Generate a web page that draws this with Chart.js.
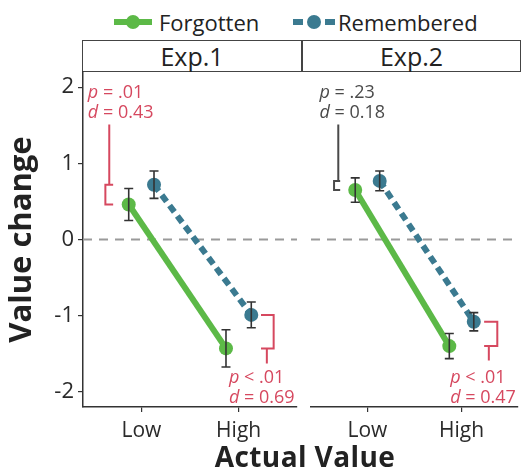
<!DOCTYPE html>
<html>
<head>
<meta charset="utf-8">
<script src="https://cdn.jsdelivr.net/npm/chart.js@4.4.1/dist/chart.umd.min.js"></script>
<style>
  html, body { margin:0; padding:0; background:#fff; }
  #root { position:relative; width:525px; height:475px; overflow:hidden; font-family:"Open Sans", "Lato", sans-serif; color:#222; }
  .strip { position:absolute; top:40px; height:30px; border:1.5px solid #444; background:#fff; text-align:center; font-size:25px; line-height:30px; color:#222; box-sizing:content-box; }
  .legend { position:absolute; top:8px; height:28px; display:flex; align-items:center; font-size:22px; color:#222; }
  .legend span { margin-left:6px; }
  #xtitle { position:absolute; left:0; width:610px; top:437px; text-align:center; font-weight:bold; font-size:28px; color:#222; letter-spacing:0.4px; }
  .wrap { position:absolute; top:0; height:475px; }
</style>
</head>
<body>
<div id="root">
  <div class="legend" style="left:113px;">
    <svg width="40" height="20"><line x1="1" y1="10" x2="39" y2="10" stroke="#5cb947" stroke-width="6"/><circle cx="20" cy="10" r="7" fill="#5cb947"/></svg><span id="lg0"></span>
  </div>
  <div class="legend" style="left:292px;">
    <svg width="44" height="20"><line x1="1" y1="10" x2="43" y2="10" stroke="#3b7a90" stroke-width="6" stroke-dasharray="10 22"/><circle cx="22" cy="10" r="7" fill="#3b7a90"/></svg><span id="lg1" style="margin-left:2px"></span>
  </div>
  <div class="strip" id="s0" style="left:82px; width:218px;"></div>
  <div class="strip" id="s1" style="left:302px; width:217px;"></div>
  <div class="wrap" style="left:0; width:304px;"><canvas id="c1" width="304" height="475"></canvas></div>
  <div class="wrap" style="left:304px; width:221px;"><canvas id="c2" width="221" height="475"></canvas></div>
  <div id="xtitle"></div>
</div>
<script>
// ---------------- data ----------------
const categories = ['Low', 'High'];
const panelNames = ['Exp.1', 'Exp.2'];
const seriesNames = ['Forgotten', 'Remembered'];
const yTickValues = [-2, -1, 0, 1, 2];
const exp1Forgotten = [0.46, -1.43];
const exp1ForgottenSE = [0.21, 0.245];
const exp1Remembered = [0.72, -0.99];
const exp1RememberedSE = [0.18, 0.17];
const exp2Forgotten = [0.65, -1.40];
const exp2ForgottenSE = [0.16, 0.165];
const exp2Remembered = [0.77, -1.08];
const exp2RememberedSE = [0.13, 0.12];
const exp1Stats = [['p = .01', 'd = 0.43'], ['p < .01', 'd = 0.69']];
const exp2Stats = [['p = .23', 'd = 0.18'], ['p < .01', 'd = 0.47']];
const yAxisTitle = 'Value change';
const xAxisTitle = 'Actual Value';

// ---------------- styles / layout ----------------
const GREEN = '#5cb947', BLUE = '#3b7a90', RED = '#d6485f', GREYTXT = '#4a4a4a', INK = '#333';
const FONT = '"Open Sans", "Lato", sans-serif';
const DODGE = 0.13;

document.getElementById('lg0').textContent = seriesNames[0];
document.getElementById('lg1').textContent = seriesNames[1];
document.getElementById('s0').textContent = panelNames[0];
document.getElementById('s1').textContent = panelNames[1];
document.getElementById('xtitle').textContent = xAxisTitle;

// annotation geometry (data units of each panel)
const annLayout1 = [
  { side:'left', vx:0.63, ax:0.71, sx:0.67, stemEnd:1.51, tx:0.45, ty:[1.92, 1.66], color:RED },
  { side:'right', vx:2.36, ax:2.23, sx:2.29, stemEnd:-1.63, tx:1.90, ty:[-1.82, -2.08], color:RED }
];
const annLayout2 = [
  { side:'left', vx:0.645, ax:0.71, sx:0.69, stemEnd:1.51, tx:0.49, ty:[1.92, 1.66], color:GREYTXT },
  { side:'right', vx:2.38, ax:2.24, sx:2.29, stemEnd:-1.59, tx:1.88, ty:[-1.82, -2.08], color:RED }
];

function pts(vals, off) { return vals.map((v, i) => ({ x: i + 1 + off, y: v })); }

const zeroLine = {
  id: 'zeroLine',
  beforeDatasetsDraw(chart) {
    const { ctx, chartArea: a, scales: { y } } = chart;
    const py = y.getPixelForValue(0);
    ctx.save();
    ctx.strokeStyle = '#9a9a9a'; ctx.lineWidth = 2; ctx.setLineDash([9, 7]);
    ctx.beginPath(); ctx.moveTo(a.left, py); ctx.lineTo(a.right, py); ctx.stroke();
    ctx.restore();
  }
};

const errorBars = {
  id: 'errorBars',
  afterDatasetsDraw(chart) {
    const { ctx, scales: { x, y } } = chart;
    ctx.save();
    ctx.strokeStyle = INK; ctx.lineWidth = 1.6;
    chart.data.datasets.forEach(ds => {
      ds.data.forEach((p, i) => {
        const e = ds.se[i];
        const px = x.getPixelForValue(p.x);
        const t = y.getPixelForValue(p.y + e), b = y.getPixelForValue(p.y - e);
        ctx.beginPath();
        ctx.moveTo(px, t); ctx.lineTo(px, b);
        ctx.moveTo(px - 4.5, t); ctx.lineTo(px + 4.5, t);
        ctx.moveTo(px - 4.5, b); ctx.lineTo(px + 4.5, b);
        ctx.stroke();
      });
    });
    ctx.restore();
  }
};

function drawStatText(ctx, x0, y0, s, color) {
  ctx.fillStyle = color;
  ctx.textBaseline = 'middle'; ctx.textAlign = 'left';
  ctx.font = 'italic 18px ' + FONT;
  ctx.fillText(s[0], x0, y0);
  const w = ctx.measureText(s[0]).width;
  ctx.font = '18px ' + FONT;
  ctx.fillText(s.slice(1), x0 + w, y0);
}

function annotations(stats, layout) {
  return {
    id: 'annotations',
    afterDraw(chart) {
      const { ctx, scales: { x, y } } = chart;
      const ds = chart.data.datasets;
      ctx.save();
      layout.forEach((L, i) => {
        const m1 = ds[0].data[i].y, m2 = ds[1].data[i].y;
        const top = y.getPixelForValue(Math.max(m1, m2));
        const bot = y.getPixelForValue(Math.min(m1, m2));
        const vx = x.getPixelForValue(L.vx), ax = x.getPixelForValue(L.ax), sx = x.getPixelForValue(L.sx);
        ctx.strokeStyle = L.color; ctx.lineWidth = 2; ctx.setLineDash([]);
        ctx.beginPath();
        ctx.moveTo(ax, top); ctx.lineTo(vx, top); ctx.lineTo(vx, bot); ctx.lineTo(ax, bot);
        if (L.side === 'left') { ctx.moveTo(sx, top); ctx.lineTo(sx, y.getPixelForValue(L.stemEnd)); }
        else { ctx.moveTo(sx, bot); ctx.lineTo(sx, y.getPixelForValue(L.stemEnd)); }
        ctx.stroke();
        stats[i].forEach((s, k) => drawStatText(ctx, x.getPixelForValue(L.tx), y.getPixelForValue(L.ty[k]), s, L.color));
      });
      ctx.restore();
    }
  };
}

function makeChart(id, f, fse, r, rse, stats, layout, showY) {
  return new Chart(document.getElementById(id), {
    type: 'line',
    data: {
      datasets: [
        { label: seriesNames[0], data: pts(f, -DODGE), se: fse, borderColor: GREEN, backgroundColor: GREEN,
          borderWidth: 6, pointRadius: 7, pointBackgroundColor: GREEN, pointBorderWidth: 0, pointHoverRadius: 7 },
        { label: seriesNames[1], data: pts(r, DODGE), se: rse, borderColor: BLUE, backgroundColor: BLUE,
          borderWidth: 6, borderDash: [8, 5], pointRadius: 7, pointBackgroundColor: BLUE, pointBorderWidth: 0, pointHoverRadius: 7 }
      ]
    },
    options: {
      responsive: false, animation: false, events: [],
      layout: { padding: { top: 72, right: showY ? 2 : 1, left: 0, bottom: 0 } },
      plugins: { legend: { display: false }, tooltip: { enabled: false } },
      scales: {
        x: {
          type: 'linear', min: 0.4, max: 2.6,
          afterBuildTicks: s => { s.ticks = categories.map((c, i) => ({ value: i + 1 })); },
          afterFit: s => { s.height = 68; },
          ticks: { callback: v => categories[v - 1], font: { family: FONT, size: 21 }, color: '#2a2a2a', padding: 6, maxRotation: 0, autoSkip: false },
          grid: { display: true, drawOnChartArea: false, drawTicks: true, tickLength: 5, color: INK, lineWidth: 1.2 },
          border: { display: true, color: INK, width: 1.5 }
        },
        y: {
          type: 'linear', min: -2.2, max: 2.2, display: showY,
          afterBuildTicks: s => { s.ticks = yTickValues.map(v => ({ value: v })); },
          afterFit: s => { if (showY) s.width = 83; },
          ticks: { font: { family: FONT, size: 22 }, color: '#2a2a2a', padding: 4 },
          grid: { display: true, drawOnChartArea: false, drawTicks: true, tickLength: 5, color: INK, lineWidth: 1.2 },
          border: { display: true, color: INK, width: 1.5 },
          title: { display: showY, text: yAxisTitle, font: { family: FONT, size: 31, weight: 'bold' }, color: '#222', padding: { top: 4, bottom: 2 } }
        }
      }
    },
    plugins: [zeroLine, errorBars, annotations(stats, layout)]
  });
}

makeChart('c1', exp1Forgotten, exp1ForgottenSE, exp1Remembered, exp1RememberedSE, exp1Stats, annLayout1, true);
makeChart('c2', exp2Forgotten, exp2ForgottenSE, exp2Remembered, exp2RememberedSE, exp2Stats, annLayout2, false);
</script>
</body>
</html>
